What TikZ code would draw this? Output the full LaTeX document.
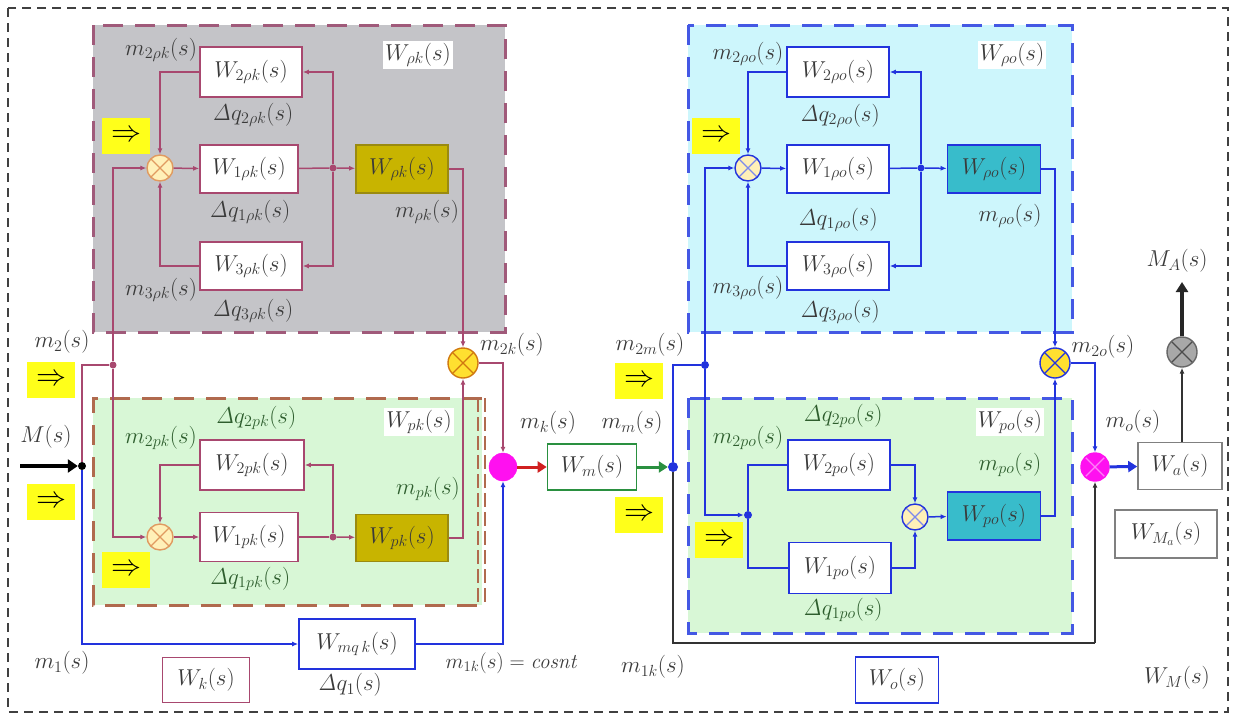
\RequirePackage{fix-cm}
\documentclass[tikz,border=0pt]{standalone}
\usetikzlibrary{arrows.meta,calc}
\definecolor{cMar}{HTML}{A8486F}
\definecolor{cMarD}{HTML}{A05A7A}
\definecolor{cBrn}{HTML}{B06A4E}
\definecolor{cBlu}{HTML}{2233DD}
\definecolor{cBluD}{HTML}{4458E4}
\definecolor{cGryF}{HTML}{C4C4C8}
\definecolor{cGrnF}{HTML}{D8F7D6}
\definecolor{cCynF}{HTML}{CDF6FC}
\definecolor{cOlv}{HTML}{C8B400}
\definecolor{cOlvB}{HTML}{9A8A10}
\definecolor{cTeal}{HTML}{38BCCB}
\definecolor{cYel}{HTML}{FFFF1A}
\definecolor{cCream}{HTML}{FFF0B8}
\definecolor{cYc}{HTML}{FFE030}
\definecolor{cOrg}{HTML}{D07810}
\definecolor{cOrgL}{HTML}{E09A60}
\definecolor{cMag}{HTML}{FF10F0}
\definecolor{cMagL}{HTML}{FF80F8}
\definecolor{cGrC}{HTML}{A8A8A8}
\definecolor{cTxt}{HTML}{3A3A3A}
\definecolor{cTxtG}{HTML}{2E5E2E}
\definecolor{cGln}{HTML}{2A9040}
\definecolor{cRed}{HTML}{D02020}
\definecolor{cBox}{HTML}{808080}
\tikzset{
  lbl/.style={text=cTxt, inner sep=1pt},
  lblg/.style={text=cTxtG, inner sep=1pt},
  wlbl/.style={fill=white, text=cTxt, inner sep=2pt},
  wbox/.style={draw=#1, fill=white, line width=1.6pt, inner sep=0pt, text=cTxt},
  fbox/.style 2 args={draw=#1, fill=#2, line width=1.6pt, inner sep=0pt, text=cTxt},
  yarr/.style={fill=cYel, inner sep=0pt, minimum width=48pt, minimum height=36pt, font=\fontsize{30}{32}\selectfont},
  xc/.style n args={3}{circle, draw=#1, fill=#2, line width=1.4pt, inner sep=0pt,
    path picture={\draw[#3, line width=1.3pt] (path picture bounding box.south west) -- (path picture bounding box.north east) (path picture bounding box.north west) -- (path picture bounding box.south east);}},
  jdot/.style={circle, fill=#1, inner sep=0pt, minimum size=7pt},
  lnM/.style={draw=cMar, line width=1.5pt},
  lnB/.style={draw=cBlu, line width=1.5pt},
  lnK/.style={draw=black!80, line width=1.8pt},
  arr/.style={-{Latex[length=6pt,width=5pt]}},
}
\begin{document}
\begin{tikzpicture}[x=1pt,y=-1pt, font=\fontsize{23}{27}\selectfont]
\useasboundingbox (0,0) rectangle (1234,718);
\fill[white] (0,0) rectangle (1234,718);
% outer border
\draw[black!75, line width=2pt, dash pattern=on 9pt off 6pt] (8,8) rectangle (1228,712);
% regions
\draw[cMarD, fill=cGryF, line width=3pt, dash pattern=on 20pt off 12pt] (93,25) rectangle (505,332);
\fill[cGrnF] (93,398) rectangle (482,605);
\draw[cBrn, line width=3pt, dash pattern=on 20pt off 12pt] (482,398) -- (93,398) -- (93,605) -- (482,605);
\draw[cBrn, line width=1.2pt, dash pattern=on 14pt off 5pt] (478,398) -- (478,605) (485,398) -- (485,605);
\draw[cBluD, fill=cCynF, line width=3pt, dash pattern=on 20pt off 12pt] (688,25) rectangle (1072,332);
\draw[cBluD, fill=cGrnF, line width=3pt, dash pattern=on 20pt off 12pt] (688,398) rectangle (1072,633);

% yellow arrow boxes
\node[yarr] (y1) at (126,136) {$\Rightarrow$};
\node[yarr] (y2) at (51,380) {$\Rightarrow$};
\node[yarr] (y3) at (51,502) {$\Rightarrow$};
\node[yarr] (y4) at (126,570) {$\Rightarrow$};
\node[yarr] (y5) at (639,381) {$\Rightarrow$};
\node[yarr] (y6) at (639,515) {$\Rightarrow$};
\node[yarr] (y7) at (716,136) {$\Rightarrow$};
\node[yarr] (y8) at (719,540) {$\Rightarrow$};

% ---- left top group
\node[wbox=cMar, minimum width=102pt, minimum height=50pt] (W2rk) at (251,72) {$W_{2\rho k}(s)$};
\node[wbox=cMar, minimum width=98pt, minimum height=48pt] (W1rk) at (249,169) {$W_{1\rho k}(s)$};
\node[wbox=cMar, minimum width=102pt, minimum height=48pt] (W3rk) at (251,266) {$W_{3\rho k}(s)$};
\node[fbox={cOlvB}{cOlv}, minimum width=92pt, minimum height=48pt] (Wrk) at (402,169) {$W_{\rho k}(s)$};
\node[xc={cOrgL}{cCream}{cOrgL}, minimum size=26pt] (sRk) at (160,168) {};
\node[jdot=cMar] (dRk) at (333,168) {};
% ---- left green group
\node[wbox=cMar, minimum width=104pt, minimum height=50pt] (W2pk) at (252,465) {$W_{2pk}(s)$};
\node[wbox=cMar, minimum width=98pt, minimum height=49pt] (W1pk) at (249,537) {$W_{1pk}(s)$};
\node[fbox={cOlvB}{cOlv}, minimum width=92pt, minimum height=47pt] (Wpk) at (402,538) {$W_{pk}(s)$};
\node[xc={cOrgL}{cCream}{cOrgL}, minimum size=26pt] (sPk) at (160,537) {};
\node[jdot=cMar] (dPk) at (333,537) {};
% ---- left misc
\node[jdot=black, minimum size=8pt] (dM) at (82,466) {};
\node[jdot=cMar] (dA) at (113,365) {};
\coordinate (Min) at (20,466);
\node[wbox=cBlu, minimum width=116pt, minimum height=50pt] (Wmq) at (357,644) {$W_{mq\,k}(s)$};
\node[wbox=cMar, minimum width=87pt, minimum height=45pt] (Wk) at (206,680) {$W_{k}(s)$};
\node[xc={cOrg}{cYc}{cOrg}, minimum size=30pt] (yk) at (463,363) {};
\node[circle, fill=cMag, draw=cMag, minimum size=28pt, inner sep=0pt] (pk) at (503,467) {};
\node[wbox=cGln, minimum width=89pt, minimum height=46pt] (Wm) at (592,467) {$W_{m}(s)$};
\node[jdot=cBlu, minimum size=10pt] (dB) at (673,467) {};
\node[jdot=cBlu, minimum size=8pt] (dC) at (705,365) {};
% ---- right top group
\node[wbox=cBlu, minimum width=102pt, minimum height=50pt] (W2ro) at (838,72) {$W_{2\rho o}(s)$};
\node[wbox=cBlu, minimum width=102pt, minimum height=48pt] (W1ro) at (838,169) {$W_{1\rho o}(s)$};
\node[wbox=cBlu, minimum width=102pt, minimum height=48pt] (W3ro) at (838,266) {$W_{3\rho o}(s)$};
\node[fbox={cBlu}{cTeal}, minimum width=93pt, minimum height=48pt] (Wro) at (994,169) {$W_{\rho o}(s)$};
\node[xc={cBlu}{cCream}{cBluD!70}, minimum size=26pt] (sRo) at (748,168) {};
\node[jdot=cBlu] (dRo) at (921,168) {};
% ---- right green group
\node[wbox=cBlu, minimum width=102pt, minimum height=50pt] (W2po) at (839,465) {$W_{2po}(s)$};
\node[wbox=cBlu, minimum width=102pt, minimum height=51pt] (W1po) at (840,568) {$W_{1po}(s)$};
\node[fbox={cBlu}{cTeal}, minimum width=93pt, minimum height=48pt] (Wpo) at (994,516) {$W_{po}(s)$};
\node[xc={cBlu}{cCream}{cBluD!70}, minimum size=26pt] (sPo) at (915,517) {};
\node[jdot=cBlu, minimum size=8pt] (dPo) at (748,515) {};
\node[wbox=cBlu, minimum width=83pt, minimum height=46pt] (Wo) at (897,680) {$W_{o}(s)$};
% ---- far right
\node[xc={cBlu}{cYc}{cBlu}, minimum size=30pt] (yo) at (1055,363) {};
\node[xc={cMag}{cMag}{cMagL}, minimum size=28pt] (po) at (1095,467) {};
\node[wbox=cBox, minimum width=84pt, minimum height=47pt] (Wa) at (1180,466) {$W_{a}(s)$};
\node[wbox=cBox, minimum width=102pt, minimum height=48pt] (WMa) at (1166,534) {$W_{M_a}(s)$};
\node[xc={black!60}{cGrC}{black!70}, minimum size=30pt] (gc) at (1182,352) {};
\coordinate (MAe) at (1182,282);
\coordinate (bk) at (1095,643);

% ---- labels
\node[lbl] (l1) at (161,50) {$m_{2\rho k}(s)$};
\node[wlbl] (l2) at (418,55) {$W_{\rho k}(s)$};
\node[lbl] (l3) at (253,115) {$\mathit{\Delta} q_{2\rho k}(s)$};
\node[lbl] (l4) at (250,212) {$\mathit{\Delta} q_{1\rho k}(s)$};
\node[lbl] (l5) at (427,212) {$m_{\rho k}(s)$};
\node[lbl] (l6) at (161,290) {$m_{3\rho k}(s)$};
\node[lbl] (l7) at (253,311) {$\mathit{\Delta} q_{3\rho k}(s)$};
\node[lblg] (l8) at (256,418) {$\mathit{\Delta} q_{2pk}(s)$};
\node[wlbl] (l9) at (419,422) {$W_{pk}(s)$};
\node[lblg] (l10) at (161,438) {$m_{2pk}(s)$};
\node[lblg] (l11) at (428,489) {$m_{pk}(s)$};
\node[lblg] (l12) at (250,579) {$\mathit{\Delta} q_{1pk}(s)$};
\node[lbl] (l13) at (62,342) {$m_{2}(s)$};
\node[lbl] (l14) at (46,437) {$M(s)$};
\node[lbl] (l15) at (62,663) {$m_{1}(s)$};
\node[lbl] (l16) at (350,685) {$\mathit{\Delta} q_{1}(s)$};
\node[lbl, font=\fontsize{21}{24}\selectfont] (l17) at (512,663) {$m_{1k}(s)=\mathit{cosnt}$};
\node[lbl] (l18) at (512,345) {$m_{2k}(s)$};
\node[lbl] (l19) at (548,423) {$m_{k}(s)$};
\node[lbl] (l20) at (632,423) {$m_{m}(s)$};
\node[lbl] (l21) at (650,345) {$m_{2m}(s)$};
\node[lbl] (l22) at (653,667) {$m_{1k}(s)$};
\node[lbl] (l23) at (748,54) {$m_{2\rho o}(s)$};
\node[wlbl] (l24) at (1012,55) {$W_{\rho o}(s)$};
\node[lbl] (l25) at (840,116) {$\mathit{\Delta} q_{2\rho o}(s)$};
\node[lbl] (l26) at (838,220) {$\mathit{\Delta} q_{1\rho o}(s)$};
\node[lbl] (l27) at (1010,216) {$m_{\rho o}(s)$};
\node[lbl] (l28) at (748,288) {$m_{3\rho o}(s)$};
\node[lbl] (l29) at (840,312) {$\mathit{\Delta} q_{3\rho o}(s)$};
\node[lblg] (l30) at (843,416) {$\mathit{\Delta} q_{2po}(s)$};
\node[wlbl] (l31) at (1010,422) {$W_{po}(s)$};
\node[lblg] (l32) at (748,438) {$m_{2po}(s)$};
\node[lblg] (l33) at (1010,465) {$m_{po}(s)$};
\node[lblg] (l34) at (843,610) {$\mathit{\Delta} q_{1po}(s)$};
\node[lbl] (l35) at (1103,347) {$m_{2o}(s)$};
\node[lbl] (l36) at (1133,422) {$m_{o}(s)$};
\node[lbl] (l37) at (1177,261) {$M_{A}(s)$};
\node[lbl] (l38) at (1177,678) {$W_{M}(s)$};

% ---- connectors left top
\draw[lnM,arr] (sRk) -- (W1rk);
\draw[lnM] (W1rk) -- (dRk);
\draw[lnM,arr] (dRk) -- (Wrk);
\draw[lnM,arr] (dRk) |- (W2rk);
\draw[lnM,arr] (dRk) |- (W3rk);
\draw[lnM,arr] (W2rk) -| (sRk);
\draw[lnM,arr] (W3rk) -| (sRk);
\draw[lnM,arr] (Wrk) -| (yk);
% left green
\draw[lnM,arr] (sPk) -- (W1pk);
\draw[lnM] (W1pk) -- (dPk);
\draw[lnM,arr] (dPk) -- (Wpk);
\draw[lnM,arr] (dPk) |- (W2pk);
\draw[lnM,arr] (W2pk) -| (sPk);
\draw[lnM,arr] (Wpk) -| (yk);
% inputs
\draw[line width=4.5pt, black, -{Triangle[length=10pt,width=13pt]}] (Min) -- (dM);
\draw[lnM] (dM) |- (dA);
\draw[lnM,arr] (dA) |- (sRk);
\draw[lnM,arr] (dA) |- (sPk);
\draw[lnB,arr] (dM) |- (Wmq);
\draw[lnB,arr] (Wmq) -| (pk);
\draw[lnM,arr] (yk) -| (pk);
\draw[cRed, line width=3pt, -{Triangle[length=9pt,width=11pt]}] (pk) -- (Wm);
\draw[cGln, line width=3pt, -{Triangle[length=9pt,width=11pt]}] (Wm) -- (dB);
\draw[lnB] (dB) |- (dC);
\draw[lnB,arr] (dC) |- (sRo);
\draw[lnB,arr] (dC) |- (dPo);
\draw[lnK] (dB) |- (bk);
\draw[lnK,arr] (bk) -- (po);
% right top
\draw[lnB,arr] (sRo) -- (W1ro);
\draw[lnB] (W1ro) -- (dRo);
\draw[lnB,arr] (dRo) -- (Wro);
\draw[lnB,arr] (dRo) |- (W2ro);
\draw[lnB,arr] (dRo) |- (W3ro);
\draw[lnB,arr] (W2ro) -| (sRo);
\draw[lnB,arr] (W3ro) -| (sRo);
\draw[lnB,arr] (Wro) -| (yo);
% right green
\draw[lnB] (dPo) |- (W2po);
\draw[lnB] (dPo) |- (W1po);
\draw[lnB,arr] (W2po) -| (sPo);
\draw[lnB,arr] (W1po) -| (sPo);
\draw[lnB,arr] (sPo) -- (Wpo);
\draw[lnB,arr] (Wpo) -| (yo);
\draw[lnB,arr] (yo) -| (po);
\draw[cBlu, line width=3pt, -{Triangle[length=9pt,width=11pt]}] (po) -- (Wa);
\draw[lnK,arr] (gc |- Wa.north) -- (gc);
\draw[black!85, line width=3.5pt, -{Triangle[length=10pt,width=12pt]}] (gc) -- (MAe);
\end{tikzpicture}
\end{document}
